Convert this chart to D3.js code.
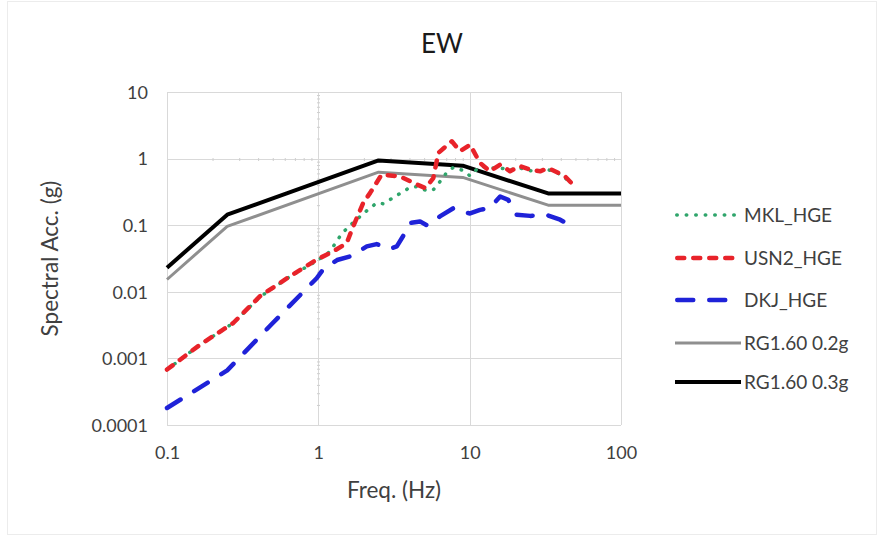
<!DOCTYPE html>
<html>
<head>
<meta charset="utf-8">
<script src="https://cdn.jsdelivr.net/npm/d3@7"></script>
<style>
  html, body { margin: 0; padding: 0; background: #ffffff; }
  svg { display: block; font-family: Lato, "Open Sans", sans-serif; }
</style>
</head>
<body>
<svg id="chart" width="883" height="539"></svg>
<script>
// ---- data ----
const chartTitle = "EW";
const xTickValues = [0.1, 1, 10, 100];
const xTickLabels = ["0.1", "1", "10", "100"];
const yTickValues = [0.0001, 0.001, 0.01, 0.1, 1, 10];
const yTickLabels = ["0.0001", "0.001", "0.01", "0.1", "1", "10"];
const xAxisTitle = "Freq. (Hz)";
const yAxisTitle = "Spectral Acc. (g)";

const seriesNames = ["MKL_HGE", "USN2_HGE", "DKJ_HGE", "RG1.60 0.2g", "RG1.60 0.3g"];

const freqMKL = [0.1, 0.165, 0.274, 0.412, 0.65, 0.975, 1.19, 1.43, 1.7, 2.09, 2.43, 2.69, 3.3, 4.04, 4.47, 5.2, 5.75, 6.36, 7.06, 7.8, 9.1, 10.06, 11.7, 13.6, 15.9, 18.5, 21.5, 25.1, 29.2, 33.1, 38.5, 42.7, 46.5];
const accMKL  = [0.00068, 0.0016, 0.0034, 0.0084, 0.017, 0.029, 0.04, 0.075, 0.11, 0.165, 0.216, 0.21, 0.28, 0.37, 0.38, 0.33, 0.34, 0.45, 0.62, 0.74, 0.66, 0.55, 0.77, 0.72, 0.72, 0.68, 0.72, 0.66, 0.65, 0.68, 0.6, 0.52, 0.40];

const freqUSN2 = [0.1, 0.165, 0.274, 0.412, 0.65, 0.975, 1.26, 1.54, 1.7, 1.98, 2.2, 2.62, 3.47, 4.47, 5.1, 5.75, 6.21, 7.62, 8.64, 10.06, 11.7, 13.6, 15.9, 18.5, 21.5, 25.1, 29.2, 33.1, 38.5, 42.7, 47.0];
const accUSN2  = [0.00068, 0.0016, 0.0034, 0.0086, 0.0171, 0.0304, 0.0406, 0.054, 0.096, 0.216, 0.306, 0.575, 0.54, 0.41, 0.36, 0.51, 1.22, 1.82, 1.29, 1.62, 0.86, 0.645, 0.81, 0.645, 0.77, 0.68, 0.645, 0.72, 0.61, 0.54, 0.43];

const freqDKJ = [0.1, 0.25, 0.5, 0.975, 1.08, 1.33, 1.62, 2.09, 2.43, 2.97, 3.3, 3.65, 4.04, 4.7, 5.2, 5.75, 6.36, 7.8, 8.8, 10.06, 11.7, 13.6, 15.9, 18.0, 20.4, 25.1, 31.9, 39.6, 47.3];
const accDKJ  = [0.00018, 0.00066, 0.0034, 0.016, 0.022, 0.030, 0.034, 0.048, 0.052, 0.044, 0.048, 0.07, 0.108, 0.114, 0.10, 0.108, 0.136, 0.18, 0.16, 0.15, 0.17, 0.182, 0.27, 0.24, 0.144, 0.138, 0.144, 0.121, 0.096];

const freqRG   = [0.1, 0.25, 2.5, 9, 33, 100];
const accRG02  = [0.0153, 0.096, 0.626, 0.522, 0.2, 0.2];
const accRG03  = [0.023, 0.144, 0.939, 0.783, 0.3, 0.3];

// ---- layout ----
const svg = d3.select("#chart");
const plot = { left: 167, right: 621, top: 92, bottom: 425 };
const x = d3.scaleLog().domain([0.1, 100]).range([plot.left, plot.right]);
const y = d3.scaleLog().domain([0.0001, 10]).range([plot.bottom, plot.top]);

// faint outer frame
svg.append("rect").attr("x", 7.5).attr("y", 1.5).attr("width", 869).attr("height", 533)
  .attr("fill", "none").attr("stroke", "#ececec").attr("stroke-width", 1);

// title
svg.append("text").attr("x", 442).attr("y", 52.5).attr("text-anchor", "middle")
  .attr("font-size", 26).attr("fill", "#1a1a1a").text(chartTitle);

// gridlines
const grid = svg.append("g").attr("stroke", "#d9d9d9").attr("stroke-width", 1);
xTickValues.forEach(v => {
  grid.append("line").attr("x1", Math.round(x(v)) + 0.5).attr("x2", Math.round(x(v)) + 0.5)
    .attr("y1", plot.top).attr("y2", plot.bottom);
});
yTickValues.forEach(v => {
  grid.append("line").attr("y1", Math.round(y(v)) + 0.5).attr("y2", Math.round(y(v)) + 0.5)
    .attr("x1", plot.left).attr("x2", plot.right);
});

// axes crossing at 1 with minor ticks (log axes)
const xAxisG = svg.append("g").attr("transform", `translate(0,${Math.round(y(1)) + 0.5})`)
  .call(d3.axisBottom(x).tickValues(x.ticks().filter(t => xTickValues.indexOf(t) < 0)).tickSize(3).tickSizeOuter(0).tickFormat(""));
xAxisG.select(".domain").remove();
xAxisG.selectAll(".tick line").attr("stroke", "#cfcfcf").attr("transform", "translate(0,-1.5)");

const yAxisG = svg.append("g").attr("transform", `translate(${Math.round(x(1)) + 0.5},0)`)
  .call(d3.axisLeft(y).tickValues(y.ticks().filter(t => yTickValues.indexOf(t) < 0)).tickSize(3).tickSizeOuter(0).tickFormat(""));
yAxisG.select(".domain").remove();
yAxisG.selectAll(".tick line").attr("stroke", "#cfcfcf").attr("transform", "translate(1.5,0)");

// tick labels
const xLab = svg.append("g").attr("transform", `translate(0,${plot.bottom})`)
  .call(d3.axisBottom(x).tickValues(xTickValues).tickSize(0).tickPadding(0)
    .tickFormat((d, i) => xTickLabels[i]));
xLab.select(".domain").remove();
xLab.selectAll("text").attr("dy", null).attr("y", 34).attr("font-size", 18)
  .attr("font-family", "Lato, sans-serif").attr("fill", "#404040");

const yLab = svg.append("g").attr("transform", `translate(${plot.left},0)`)
  .call(d3.axisLeft(y).tickValues(yTickValues).tickSize(0).tickPadding(0)
    .tickFormat((d, i) => yTickLabels[i]));
yLab.select(".domain").remove();
yLab.selectAll("text").attr("dy", "0.35em").attr("x", -19).attr("font-size", 18)
  .attr("font-family", "Lato, sans-serif").attr("fill", "#404040");

// axis titles
svg.append("text").attr("x", (plot.left + plot.right) / 2).attr("y", 498)
  .attr("text-anchor", "middle").attr("font-size", 22.5).attr("fill", "#404040").text(xAxisTitle);
svg.append("text").attr("transform", `translate(58,${(plot.top + plot.bottom) / 2}) rotate(-90)`)
  .attr("text-anchor", "middle").attr("font-size", 22.5).attr("fill", "#404040").text(yAxisTitle);

// series
const styles = [
  { color: "#2fa56b", width: 3.5, dash: "0.5,9", cap: "round" },
  { color: "#e8232a", width: 4.5, dash: "7,9", cap: "round" },
  { color: "#1f22d8", width: 4.5, dash: "16,16", cap: "round" },
  { color: "#8f8f8f", width: 3, dash: null, cap: "butt" },
  { color: "#000000", width: 4, dash: null, cap: "butt" }
];
const seriesData = [
  d3.zip(freqMKL, accMKL),
  d3.zip(freqUSN2, accUSN2),
  d3.zip(freqDKJ, accDKJ),
  d3.zip(freqRG, accRG02),
  d3.zip(freqRG, accRG03)
];
const line = d3.line().x(d => x(d[0])).y(d => y(d[1]));
const drawOrder = [3, 4, 2, 0, 1];
drawOrder.forEach(i => {
  const s = styles[i];
  svg.append("path").datum(seriesData[i]).attr("d", line)
    .attr("fill", "none").attr("stroke", s.color).attr("stroke-width", s.width)
    .attr("stroke-dasharray", s.dash).attr("stroke-linecap", s.cap).attr("stroke-linejoin", "round");
});

// legend
const legendY = [215, 258, 300, 343, 382];
const leg = svg.append("g");
seriesNames.forEach((name, i) => {
  const s = styles[i];
  const inset = s.cap === "round" ? s.width / 2 : 0;
  leg.append("line").attr("x1", 675 + inset).attr("x2", 741 - inset).attr("y1", legendY[i]).attr("y2", legendY[i])
    .attr("stroke", s.color).attr("stroke-width", s.width).attr("stroke-dasharray", s.dash)
    .attr("stroke-linecap", s.cap);
  leg.append("text").attr("x", 744).attr("y", legendY[i]).attr("dy", "0.36em")
    .attr("font-size", 19).attr("fill", "#404040").text(name);
});
</script>
</body>
</html>
